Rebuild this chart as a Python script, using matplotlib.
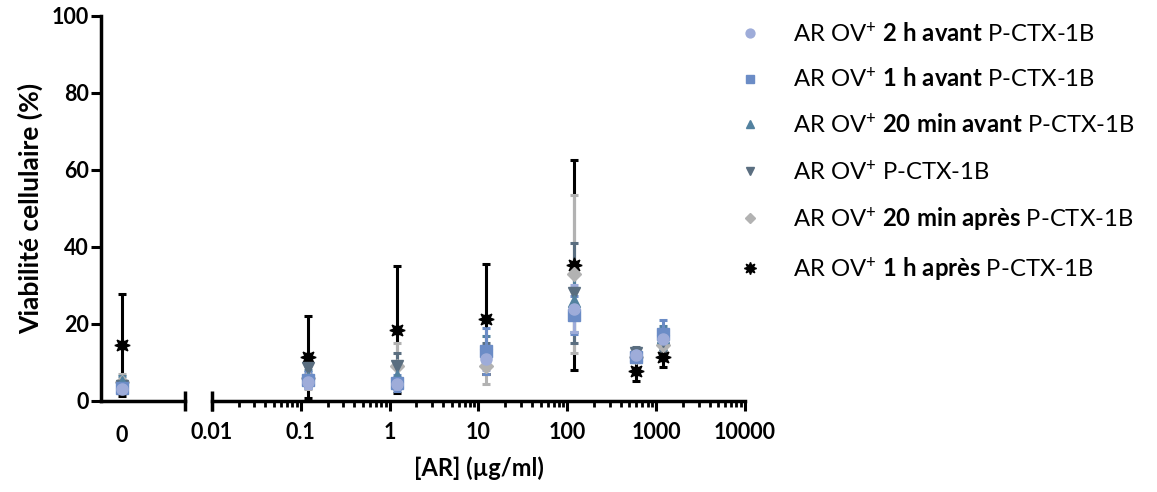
import numpy as np
import matplotlib
matplotlib.use("Agg")
import matplotlib.pyplot as plt

plt.rcParams['font.family'] = ['Lato', 'DejaVu Sans']
plt.rcParams['mathtext.fontset'] = 'custom'
plt.rcParams['mathtext.rm'] = 'Lato'
plt.rcParams['mathtext.bf'] = 'Lato:bold'
plt.rcParams['mathtext.it'] = 'Lato:italic'

# concentrations of AR (µg/ml); 0 is drawn on the separate left segment
conc = np.array([0, 0.12, 1.2, 12, 120, 600, 1200])

mean_2h_avant = [3.0, 5.0, 4.5, 11.0, 24.0, 12.0, 16.0]
sd_2h_avant = [1.0, 1.5, 1.5, 3.0, 6.0, 1.0, 2.0]
mean_1h_avant = [3.5, 5.5, 4.7, 13.0, 22.3, 11.5, 17.5]
sd_1h_avant = [1.5, 2.0, 2.0, 6.0, 5.0, 1.5, 3.5]
mean_20min_avant = [5.0, 6.0, 6.5, 13.0, 26.0, 12.0, 16.5]
sd_20min_avant = [1.5, 2.0, 2.5, 4.0, 8.0, 1.5, 3.0]
mean_simult = [4.0, 8.5, 9.0, 12.0, 28.0, 12.5, 15.5]
sd_simult = [1.5, 3.0, 3.5, 3.0, 13.0, 1.5, 2.5]
mean_20min_apres = [5.0, 6.0, 9.0, 9.0, 33.0, 11.5, 14.5]
sd_20min_apres = [2.0, 3.0, 6.0, 4.5, 20.5, 1.5, 1.5]
mean_1h_apres = [14.6, 11.4, 18.5, 21.2, 35.3, 7.8, 11.5]
sd_1h_apres = [13.2, 10.7, 16.5, 14.3, 27.3, 2.5, 2.8]

labels = [
    r'AR OV$^{+}$ $\mathbf{2\ h\ avant}$ P-CTX-1B',
    r'AR OV$^{+}$ $\mathbf{1\ h\ avant}$ P-CTX-1B',
    r'AR OV$^{+}$ $\mathbf{20\ min\ avant}$ P-CTX-1B',
    r'AR OV$^{+}$ P-CTX-1B',
    r'AR OV$^{+}$ $\mathbf{20\ min\ après}$ P-CTX-1B',
    r'AR OV$^{+}$ $\mathbf{1\ h\ après}$ P-CTX-1B',
]

series = [
    (mean_2h_avant, sd_2h_avant, '#9eacd9', 'o', 8),
    (mean_1h_avant, sd_1h_avant, '#6b8cc6', 's', 8),
    (mean_20min_avant, sd_20min_avant, '#52819f', '^', 8),
    (mean_simult, sd_simult, '#5a6e80', 'v', 8),
    (mean_20min_apres, sd_20min_apres, '#b2b2b2', 'D', 7),
    (mean_1h_apres, sd_1h_apres, 'black', (8, 1, 0), 11),
]

fig = plt.figure(figsize=(11.57, 4.92), dpi=100)
ax0 = fig.add_axes([0.0873, 0.185, 0.0726, 0.7825])
ax1 = fig.add_axes([0.1832, 0.185, 0.4607, 0.7825], sharey=ax0)

zero = conc == 0
handles = []
for i, (m, s, col, mk, ms) in enumerate(reversed(series)):
    m = np.array(m)
    s = np.array(s)
    z = 2 + i * 0.1
    for ax, sel in ((ax0, zero), (ax1, ~zero)):
        ax.errorbar(conc[sel], m[sel], yerr=s[sel], fmt='none', ecolor=col,
                    elinewidth=2.2, capsize=3, capthick=2.2, zorder=z,
                    clip_on=False)
        h, = ax.plot(conc[sel], m[sel], linestyle='none', marker=mk, ms=ms,
                     color=col, mec=col, zorder=z + 3, clip_on=False)
    handles.append(h)
handles = handles[::-1]

# left segment (0)
ax0.set_xlim(-1, 3)
ax0.set_ylim(0, 100)
ax0.set_xticks([0])
ax0.set_xticklabels(['0'])
ax0.set_yticks(range(0, 101, 20))
ax0.tick_params(axis='x', length=0, pad=17, labelsize=15.5)
ax0.tick_params(axis='y', length=7, width=2.2, labelsize=15.5, pad=2)
for t in ax0.get_xticklabels() + ax0.get_yticklabels():
    t.set_fontweight('bold')
ax0.spines[['top', 'right']].set_visible(False)
ax0.spines[['left', 'bottom']].set_linewidth(2.5)
ax0.plot([1], [0], marker='|', ms=14, mew=2.5, color='black',
         transform=ax0.transAxes, clip_on=False)
ax0.set_ylabel('Viabilité cellulaire (%)', fontweight='bold', fontsize=19,
               labelpad=6)

# right segment (log scale)
ax1.set_xscale('log')
ax1.set_xlim(0.01, 10000)
ax1.set_xticks([0.01, 0.1, 1, 10, 100, 1000, 10000])
ax1.set_xticklabels(['0.01', '0.1', '1', '10', '100', '1000', '10000'])
ax1.tick_params(axis='x', which='major', length=7, width=2.2, labelsize=15.5,
                pad=8)
ax1.tick_params(axis='x', which='minor', length=4, width=2)
for t in ax1.get_xticklabels():
    t.set_fontweight('bold')
ax1.tick_params(axis='y', left=False, labelleft=False)
ax1.spines[['top', 'right', 'left']].set_visible(False)
ax1.spines['bottom'].set_linewidth(2.5)
ax1.plot([0], [0], marker='|', ms=14, mew=2.5, color='black',
         transform=ax1.transAxes, clip_on=False)
ax1.set_xlabel('[AR] (µg/ml)', fontweight='bold', fontsize=17, labelpad=10)

fig.legend(handles, labels, loc='upper left',
           bbox_to_anchor=(719 / 1157, 1 - 0 / 492), frameon=False,
           fontsize=17.2, labelspacing=0.92, handlelength=0.8,
           handletextpad=1.4, markerscale=0.8)

fig.savefig('out.png', dpi=100)
